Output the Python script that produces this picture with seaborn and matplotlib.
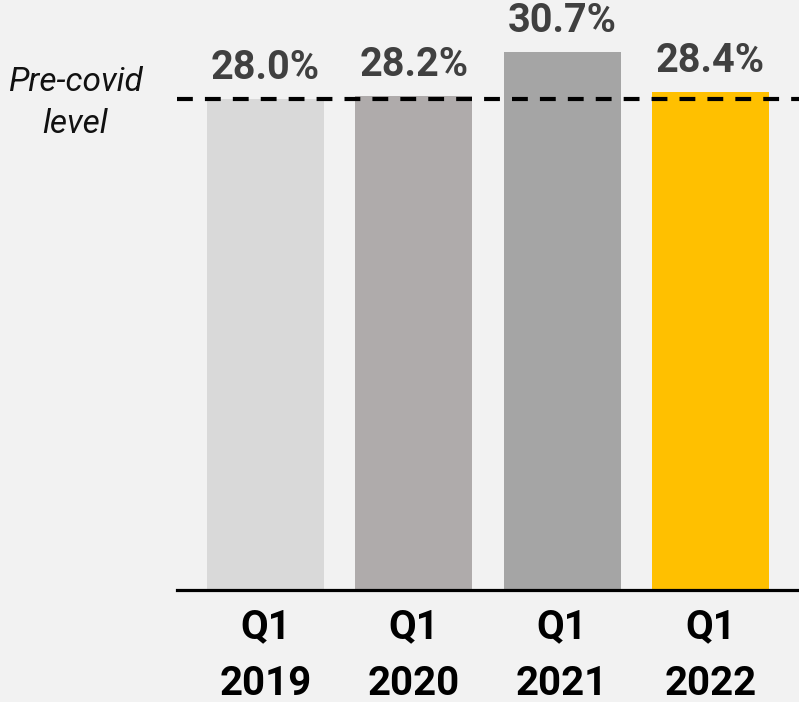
import matplotlib
matplotlib.use("Agg")
import matplotlib.pyplot as plt
import seaborn as sns
import pandas as pd

categories = ["Q1\n2019", "Q1\n2020", "Q1\n2021", "Q1\n2022"]
values = [28.0, 28.2, 30.7, 28.4]
labels = ["28.0%", "28.2%", "30.7%", "28.4%"]
colors = ["#d9d9d9", "#afabab", "#a5a5a5", "#ffc000"]
precovid_level = 28.0

sns.set_theme(style="white")
plt.rcParams["font.family"] = ["Roboto", "DejaVu Sans"]

bg = "#f2f2f2"
fig = plt.figure(figsize=(7.99, 7.02), dpi=100, facecolor=bg)
ax = fig.add_axes([177 / 799, (702 - 590) / 702, 1 - 177 / 799, 590 / 702])
ax.set_facecolor(bg)

df = pd.DataFrame({"cat": categories, "val": values})
sns.barplot(data=df, x="cat", y="val", hue="cat", palette=colors,
            legend=False, width=0.79, ax=ax, saturation=1, linewidth=0)

ax.set_xlim(-0.598, 3.598)
ax.set_ylim(0, 590 / 17.53)

for i, (v, lab) in enumerate(zip(values, labels)):
    ax.annotate(lab, xy=(i, v), xytext=(0, 14.5), textcoords="offset points",
                ha="center", va="baseline", fontsize=28.5, fontweight="bold",
                color="#404040")

ax.axhline(precovid_level, color="black", lw=3, dashes=(3.8, 2.9), zorder=5)

fig.text(75 / 799, 1 - 103 / 702, "Pre-covid\nlevel", ha="center", va="center",
         fontsize=24, fontstyle="italic", color="#111111", linespacing=1.4)

for s in ["top", "right", "left"]:
    ax.spines[s].set_visible(False)
ax.spines["bottom"].set_color("black")
ax.spines["bottom"].set_linewidth(2.3)
ax.set_yticks([])
ax.set_xlabel("")
ax.set_ylabel("")
ax.tick_params(axis="x", length=0, pad=13)
for t in ax.get_xticklabels():
    t.set_fontsize(29)
    t.set_fontweight("bold")
    t.set_color("black")
    t.set_linespacing(1.62)

fig.savefig("out.png", dpi=100, facecolor=bg)
